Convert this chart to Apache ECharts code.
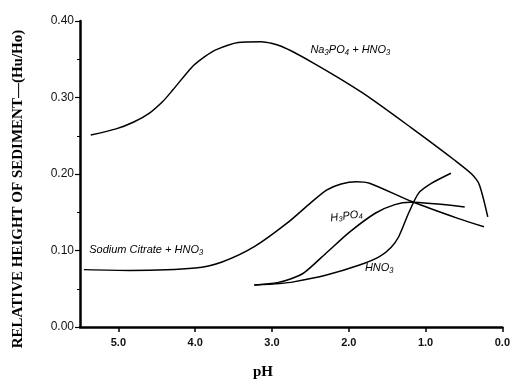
<!DOCTYPE html>
<html><head><meta charset="utf-8">
<script src="https://cdn.jsdelivr.net/npm/echarts@6/dist/echarts.min.js"></script>
<style>html,body{margin:0;padding:0;background:#fff}#c{width:513px;height:382px}</style>
</head><body><div id="c"></div>
<script>
// [pH, relative height]
const na3po4 = [[5.36,0.251],[5.03,0.259],[4.80,0.268],[4.59,0.280],[4.42,0.295],[4.29,0.310],[4.04,0.340],[3.88,0.353],[3.74,0.362],[3.44,0.372],[3.14,0.373],[2.88,0.367],[2.46,0.345],[1.82,0.306],[1.18,0.260],[0.62,0.218],[0.40,0.200],[0.30,0.186],[0.19,0.144]];
const citrate = [[5.45,0.075],[4.85,0.074],[4.0,0.077],[3.65,0.085],[3.23,0.105],[2.80,0.136],[2.50,0.162],[2.29,0.179],[2.10,0.187],[1.90,0.190],[1.73,0.188],[1.18,0.164],[0.58,0.142],[0.24,0.131]];
const h3po4 = [[3.23,0.055],[2.93,0.058],[2.75,0.063],[2.58,0.071],[2.29,0.097],[1.99,0.124],[1.65,0.149],[1.40,0.160],[1.20,0.163],[0.49,0.157]];
const hno3 = [[3.23,0.055],[2.90,0.057],[2.72,0.059],[2.29,0.068],[1.86,0.081],[1.60,0.092],[1.45,0.104],[1.35,0.118],[1.22,0.149],[1.09,0.175],[0.92,0.188],[0.67,0.201]];
const seriesNames = ['Na₃PO₄ + HNO₃','Sodium Citrate + HNO₃','H₃PO₄','HNO₃'];
const labelAnchors = [[2.50,0.362],[5.38,0.1006],[2.24,0.142],[1.79,0.077]];
const yTitle = 'RELATIVE HEIGHT OF SEDIMENT—(Hu/Ho)';
const xTitle = 'pH';

const chart = echarts.init(document.getElementById('c'));
const lineStyle = {color:'#000', width:1.5};
function mk(data, i){
  return {
    type:'line', data:data, smooth:0.25, symbol:'none', lineStyle:lineStyle, silent:true,
    markPoint:{symbol:'circle', symbolSize:0, silent:true,
      data:[{coord:labelAnchors[i], value:seriesNames[i]}],
      label:{show:true, position:'right', distance:0, formatter:seriesNames[i], color:'#000',
        fontFamily:'Liberation Sans', fontStyle:'italic', fontSize:11, rotate: i===2? 8:0}}
  };
}
chart.setOption({
  animation:false,
  grid:{left:80, right:8, top:21, bottom:55},
  xAxis:{type:'value', inverse:true, min:0, max:5.5, interval:1,
    axisLine:{lineStyle:{color:'#000', width:2.5}},
    axisTick:{length:5, lineStyle:{color:'#000', width:1.5}},
    axisLabel:{showMaxLabel:false, margin:10, color:'#111', fontSize:11, fontFamily:'Liberation Sans', fontWeight:'bold',
      formatter:v=>v.toFixed(1)},
    splitLine:{show:false}},
  yAxis:{type:'value', position:'left', min:0, max:0.4, interval:0.1,
    axisLine:{show:true, onZero:false, lineStyle:{color:'#000', width:2.5}},
    axisTick:{length:5, lineStyle:{color:'#000', width:1.2}},
    minorTick:{show:true, splitNumber:2, length:3, lineStyle:{color:'#000', width:1}},
    axisLabel:{margin:6, color:'#111', fontSize:12, fontFamily:'Liberation Sans', formatter:v=>v.toFixed(2)},
    splitLine:{show:false}},
  series:[mk(na3po4,0), mk(citrate,1), mk(h3po4,2), mk(hno3,3)],
  graphic:[
    {type:'text', x:18, y:189, rotation:Math.PI/2,
      style:{text:yTitle, fill:'#000', font:'bold 15px "Liberation Serif"', textAlign:'center', textVerticalAlign:'middle'}},
    {type:'text', x:263, y:372,
      style:{text:xTitle, fill:'#000', font:'bold 15px "Liberation Serif"', textAlign:'center', textVerticalAlign:'middle'}}
  ]
});
</script></body></html>
